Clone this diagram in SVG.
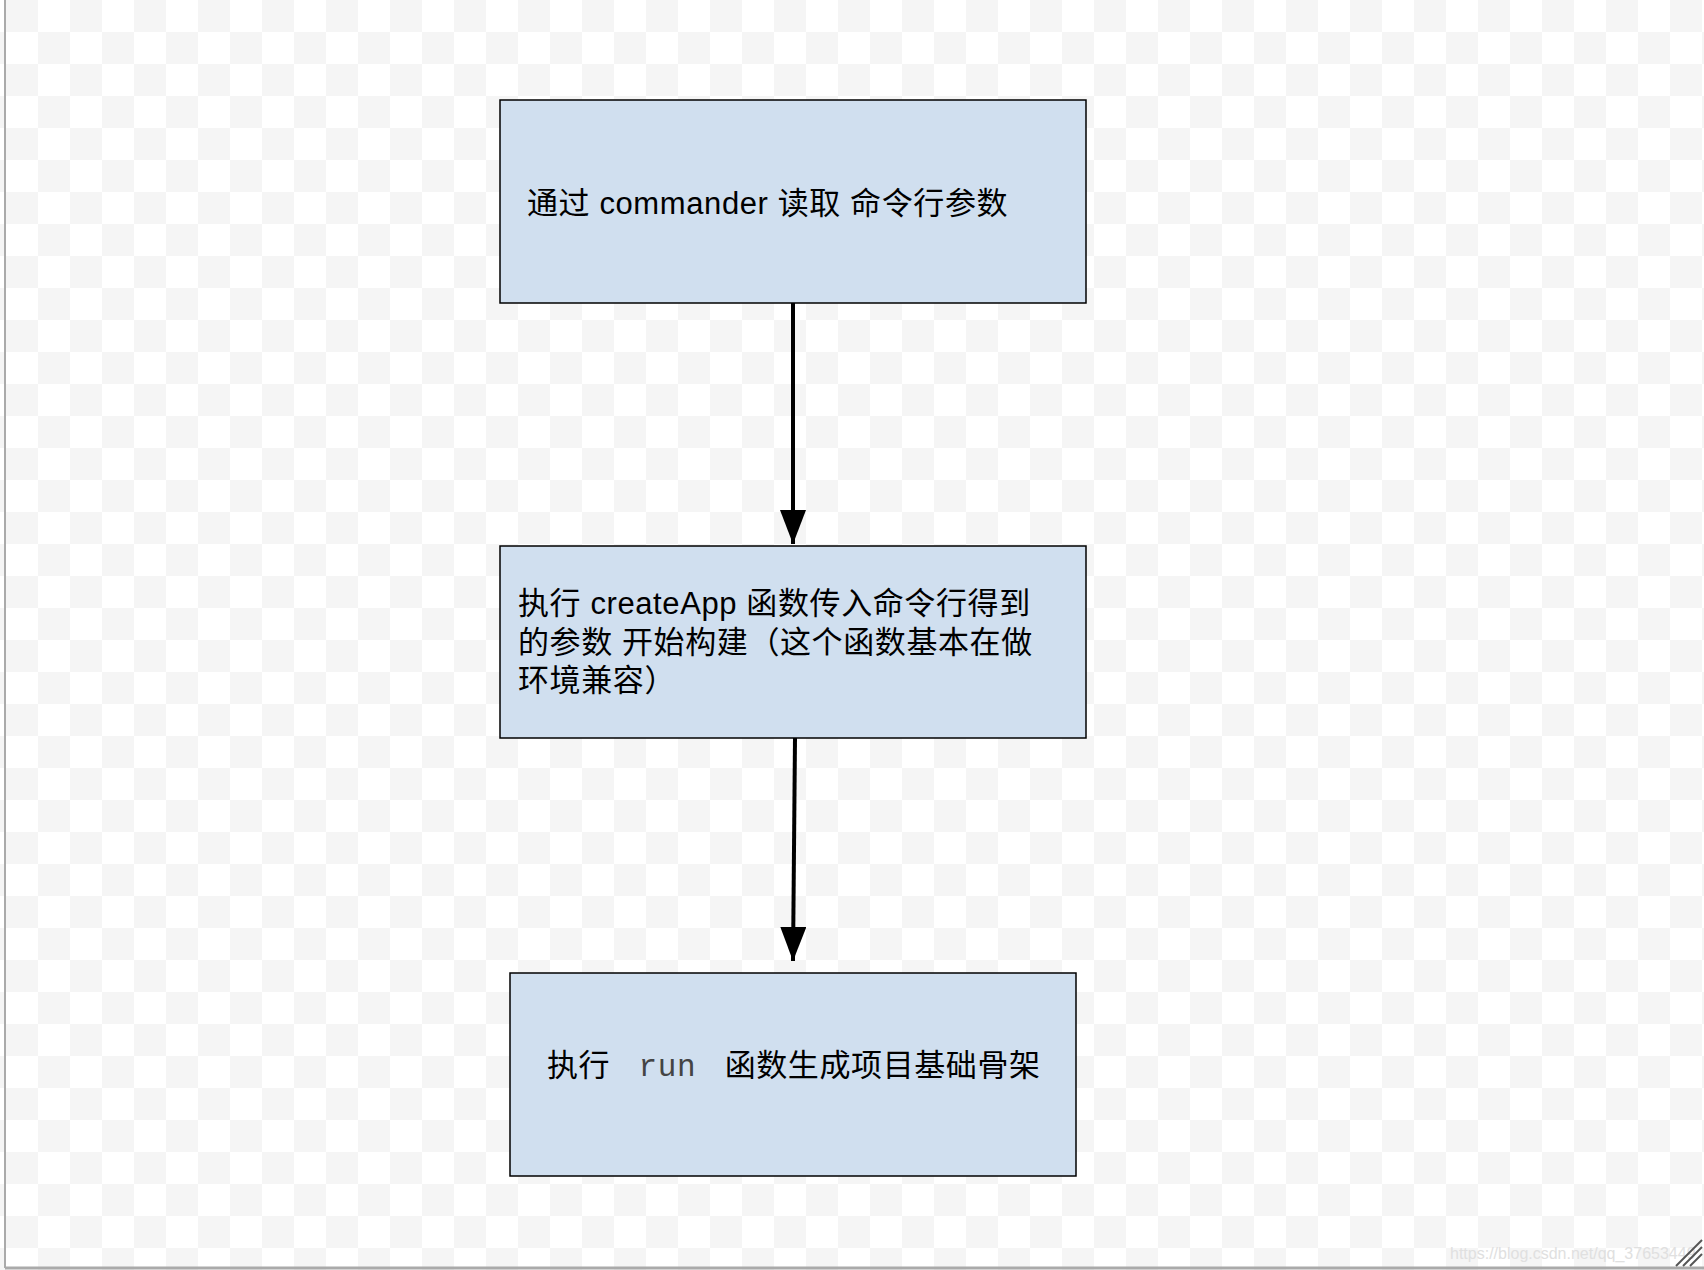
<svg xmlns="http://www.w3.org/2000/svg" width="1704" height="1270" viewBox="0 0 1704 1270">
<defs>
<pattern id="chk" width="64" height="64" patternUnits="userSpaceOnUse" x="6" y="0">
<rect width="64" height="64" fill="#ffffff"/>
<rect width="32" height="32" fill="#f5f5f5"/>
<rect x="32" y="32" width="32" height="32" fill="#f5f5f5"/>
</pattern>
<marker id="arr" markerWidth="34" markerHeight="26" refX="34" refY="13" orient="auto" markerUnits="userSpaceOnUse" viewBox="0 0 34 26">
<path d="M0,0 L34,13 L0,26 Z" fill="#000"/>
</marker>
</defs>
<style>
.box{fill:#d0dfef;stroke:#000;stroke-width:1.5}
.t{font-family:"Liberation Sans","Noto Sans CJK SC",sans-serif;font-size:31px;fill:#000;letter-spacing:0.6px}
.m{font-family:"Liberation Mono",monospace;fill:#444;font-size:31px}
.c{stroke:#000;stroke-width:4;fill:none}
</style>
<rect width="1704" height="1270" fill="url(#chk)"/>
<line x1="5" y1="0" x2="5" y2="1268" stroke="#aaa" stroke-width="2"/>
<line x1="5" y1="1268" x2="1704" y2="1268" stroke="#aaa" stroke-width="3"/>
<g id="connectors">
<line class="c" x1="793" y1="303" x2="793" y2="544" marker-end="url(#arr)"/>
<line class="c" x1="795" y1="738" x2="793" y2="961" marker-end="url(#arr)"/>
</g>
<g id="n1">
<rect class="box" x="500" y="100" width="586" height="203"/>
<text class="t" x="527" y="214">通过 commander 读取 命令行参数</text>
</g>
<g id="n2">
<rect class="box" x="500" y="546" width="586" height="192"/>
<text class="t" x="518" y="614">执行 createApp 函数传入命令行得到</text>
<text class="t" x="518" y="653">的参数 开始构建（这个函数基本在做</text>
<text class="t" x="518" y="691">环境兼容）</text>
</g>
<g id="n3">
<rect class="box" x="510" y="973" width="566" height="203"/>
<text class="t" x="547" y="1076">执行 <tspan class="m" xml:space="preserve"> run </tspan> 函数生成项目基础骨架</text>
</g>
<text x="1450" y="1259" font-family="Liberation Sans, sans-serif" font-size="16" fill="#e0e0e0">https://blog.csdn.net/qq_37653449</text>
<g stroke="#555" stroke-width="2">
<line x1="1676" y1="1266" x2="1702" y2="1240"/>
<line x1="1683" y1="1266" x2="1702" y2="1247"/>
<line x1="1690" y1="1266" x2="1702" y2="1254"/>
</g>
</svg>
